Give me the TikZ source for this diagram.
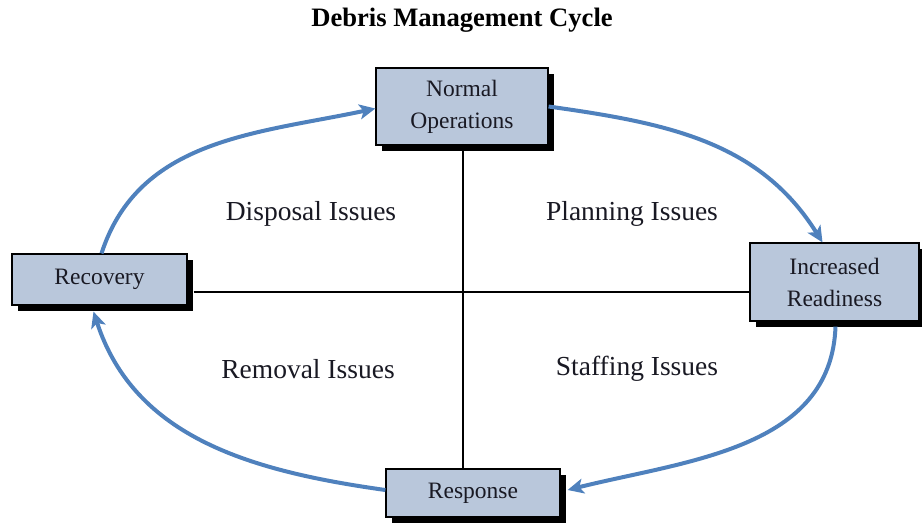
\documentclass[tikz,border=0pt]{standalone}
\usepackage{fontspec}
\setmainfont{Liberation Serif}
\usetikzlibrary{arrows.meta,shadows,calc}
\definecolor{boxfill}{RGB}{185,199,219}
\definecolor{cyclearrow}{RGB}{79,129,189}
\definecolor{inktext}{RGB}{25,25,35}
\tikzset{
  stage/.style={draw=black, line width=1.2pt, fill=boxfill, inner sep=0pt,
    align=center, text=inktext,
    font=\fontsize{23.5}{32}\selectfont,
    drop shadow={shadow xshift=6pt, shadow yshift=-6pt, fill=black, opacity=1}},
  issue/.style={text=inktext, font=\fontsize{27.5}{32}\selectfont},
  flow/.style={draw=cyclearrow, line width=4pt,
    -{Stealth[length=16pt,width=15pt,inset=4pt]}},
  divider/.style={draw=black, line width=1.2pt}
}
\begin{document}
\begin{tikzpicture}[x=1pt,y=1pt]
  \useasboundingbox (0,0) rectangle (922,-523);

  % title
  \node (title) at (462,-20) {\fontsize{26.6}{30}\selectfont\bfseries Debris Management Cycle};

  % centre of the cross
  \coordinate (cx) at (463,-292);

  % quadrant labels
  \node[issue] (disp) at (311,-214) {Disposal Issues};
  \node[issue] (plan) at (632,-214) {Planning Issues};
  \node[issue] (remo) at (308,-369) {Removal Issues};
  \node[issue] (staf) at (637,-369) {Staffing Issues};

  % stages of the cycle
  \node[stage, minimum width=172pt, minimum height=77pt] (no) at (462,-106.5) {Normal\\Operations};
  \node[stage, minimum width=175pt, minimum height=51pt] (rec) at (99.5,-279.5) {Recovery};
  \node[stage, minimum width=169pt, minimum height=78pt] (ir) at (834.5,-282) {Increased\\Readiness};
  \node[stage, minimum width=174pt, minimum height=48pt] (resp) at (473,-493) {Response};

  % cross dividing the four issue areas
  \draw[divider] (no.south -| cx) -- (resp.north -| cx);
  \draw[divider] ($(rec.east |- cx)+(6,0)$) -- (ir.west |- cx);

  % cycle arrows
  \path[flow] (no.east) to[out=-8, in=122] ($(ir.north)+(-12,0)$);
  \path[flow] ($(ir.south)+(1,-5)$) to[out=-92, in=14] ($(resp.east)+(7,3)$);
  \path[flow] ($(resp.west)+(0,3)$) to[out=172, in=-72] ($(rec.south)+(-6,-6)$);
  \path[flow] ($(rec.north)+(2,0)$) to[out=72, in=192] ($(no.west)+(0,-2)$);
\end{tikzpicture}
\end{document}
